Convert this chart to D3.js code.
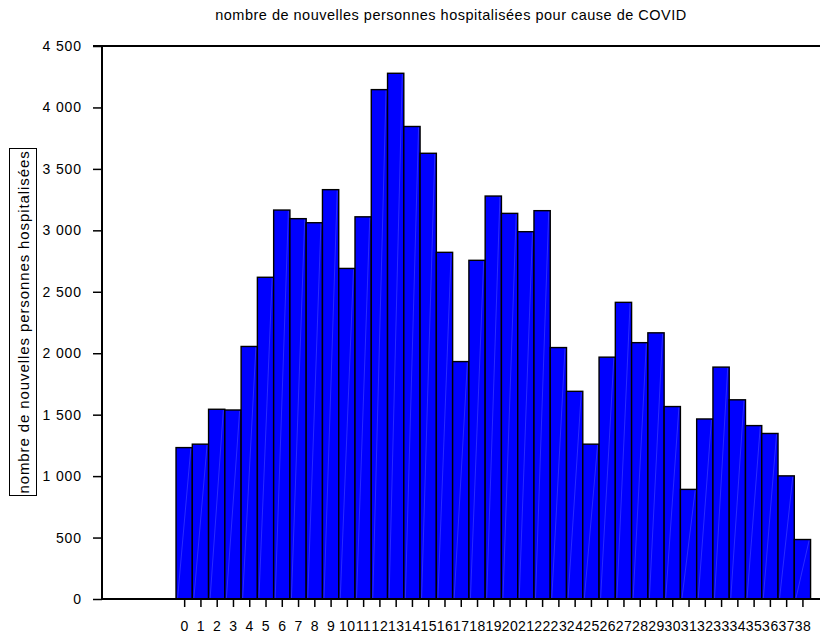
<!DOCTYPE html>
<html>
<head>
<meta charset="utf-8">
<script src="https://cdn.jsdelivr.net/npm/d3@7"></script>
<style>
  body { margin: 0; background: #fff; }
  svg { display: block; }
  text { font-family: "Liberation Sans", Arial, Helvetica, sans-serif; fill: #000; }
</style>
</head>
<body>
<svg id="chart" width="827" height="635"></svg>
<script>
const title = "nombre de nouvelles personnes hospitalisées pour cause de COVID";
const yLabel = "nombre de nouvelles personnes hospitalisées";
const categories = d3.range(0, 39);
const values = [1232, 1260, 1544, 1538, 2055, 2618, 3165, 3095, 3062, 3331,
                 2690, 3110, 4145, 4278, 3845, 3627, 2821, 1932, 2756, 3279,
                 3138, 2989, 3160, 2046, 1690, 1260, 1968, 2414, 2086, 2166,
                 1566, 892, 1465, 1887, 1621, 1411, 1347, 1002, 484];
const yTicks = [0, 500, 1000, 1500, 2000, 2500, 3000, 3500, 4000, 4500];

const svg = d3.select("#chart");
const mLeft = 102, mRight = 820, mTop = 46, mBottom = 599;

const x = d3.scaleLinear().domain([-5.05, 39.08]).range([mLeft, mRight]);
const y = d3.scaleLinear().domain([0, 4500]).range([mBottom, mTop]);

const fmt = v => d3.format(",")(v).replace(/,/g, " ");

// title
svg.append("text")
  .attr("x", 451).attr("y", 20)
  .attr("text-anchor", "middle")
  .style("font-size", "14.5px")
  .style("letter-spacing", "0.5px")
  .text(title);

// bars
const bw = x(1) - x(0);
const g = svg.append("g");
g.selectAll("rect.bar").data(categories).join("rect")
  .attr("class", "bar")
  .attr("x", d => x(d) - bw / 2)
  .attr("y", d => y(values[d]))
  .attr("width", bw)
  .attr("height", d => y(0) - y(values[d]))
  .attr("fill", "#0000ff")
  .attr("stroke", "#000")
  .attr("stroke-width", 1.4);

// faint diagonal lines inside bars
g.selectAll("line.diag").data(categories).join("line")
  .attr("class", "diag")
  .attr("x1", d => x(d) - bw / 2 + 1.5)
  .attr("y1", y(0))
  .attr("x2", d => x(d) + bw / 2 - 1.5)
  .attr("y2", d => y(values[d]) + 1)
  .attr("stroke", "#6a6aff")
  .attr("stroke-opacity", 0.5)
  .attr("stroke-width", 0.8);

// y axis
const yAxis = d3.axisLeft(y).tickValues(yTicks).tickFormat(fmt).tickSize(9).tickPadding(11);
const ya = svg.append("g").attr("transform", `translate(${mLeft},0)`).call(yAxis);
ya.select(".domain").remove();
ya.selectAll(".tick line").attr("stroke", "#000").attr("stroke-width", 1.5);
ya.selectAll(".tick text")
  .style("font-size", "14px")
  .style("letter-spacing", "0.9px")
  .style("font-family", "'Liberation Sans', Arial, sans-serif")
  .attr("fill", "#000");

svg.append("line").attr("x1", mLeft).attr("x2", mLeft).attr("y1", mTop).attr("y2", mBottom)
  .attr("stroke", "#000").attr("stroke-width", 2);

// x axis
const xAxis = d3.axisBottom(x).tickValues(categories).tickFormat(d => String(d)).tickSize(8).tickPadding(14);
const xa = svg.append("g").attr("transform", `translate(0,${mBottom})`).call(xAxis);
xa.select(".domain").remove();
xa.selectAll(".tick line").attr("stroke", "#000").attr("stroke-width", 1.5);
xa.selectAll(".tick text")
  .style("font-size", "14px")
  .style("letter-spacing", "0.5px")
  .style("font-family", "'Liberation Sans', Arial, sans-serif")
  .attr("fill", "#000");

svg.append("line").attr("x1", mLeft).attr("x2", mRight).attr("y1", mBottom).attr("y2", mBottom)
  .attr("stroke", "#000").attr("stroke-width", 2);
svg.append("line").attr("x1", 93).attr("x2", mRight).attr("y1", mTop).attr("y2", mTop)
  .attr("stroke", "#000").attr("stroke-width", 2);

// y label with box
svg.append("rect")
  .attr("x", 9.5).attr("y", 148.5).attr("width", 27).attr("height", 347)
  .attr("fill", "none").attr("stroke", "#000").attr("stroke-width", 1);
svg.append("text")
  .attr("transform", "translate(29,322) rotate(-90)")
  .attr("text-anchor", "middle")
  .style("font-size", "15px")
  .style("letter-spacing", "0.9px")
  .text(yLabel);
</script>
</body>
</html>
